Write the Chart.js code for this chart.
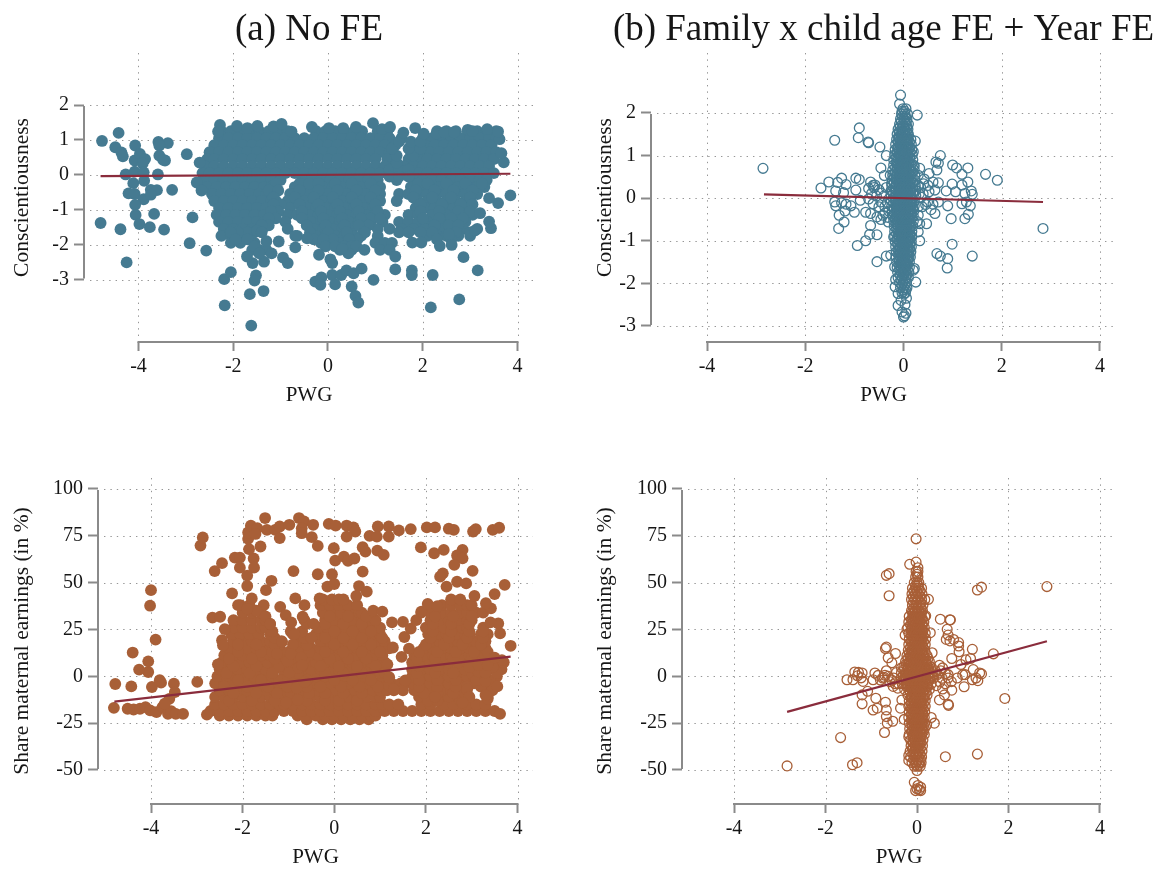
<!DOCTYPE html>
<html><head><meta charset="utf-8">
<script src="https://cdn.jsdelivr.net/npm/chart.js@4"></script>
<style>html,body{margin:0;background:#fff;overflow:hidden}canvas{position:absolute}</style>
</head><body>
<canvas id="pa" style="left:0;top:0" width="560" height="420"></canvas>
<canvas id="pb" style="left:590px;top:0" width="577" height="420"></canvas>
<canvas id="pc" style="left:0;top:440px" width="560" height="431"></canvas>
<canvas id="pd" style="left:590px;top:440px" width="577" height="431"></canvas>
<script>
const xTicks=[-4,-2,0,2,4];
const consTicks=[-3,-2,-1,0,1,2];
const shareTicks=[-50,-25,0,25,50,75,100];
const consLabel="Conscientiousness";
const shareLabel="Share maternal earnings (in %)";
const xLabel="PWG";
const titleA="(a) No FE";
const titleB="(b) Family x child age FE + Year FE";
const lineAX=[-4.8,3.85],lineAY=[-.04,.03];
const lineBX=[-2.84,2.84],lineBY=[.09,-.09];
const lineCX=[-4.8,3.85],lineCY=[-13.5,10.5];
const lineDX=[-2.84,2.84],lineDY=[-19,18.7];

const aOuter=[[-4.77,.97],[-4.42,1.2],[-4.49,.79],[-4.36,.64],[-4.33,.53],[-4.07,.84],[-4.08,.41],[-3.97,.6],[-3.86,.45],[-3.91,.33],[-3.58,.94],[-3.38,.91],[-3.56,.84],[-3.56,.55],[-3.44,.41],[-3.48,.43],[-4.27,.01],[-4.08,.09],[-3.89,.07],[-3.59,.01],[-4.11,-.24],[-3.88,-.17],[-3.74,-.43],[-3.61,-.44],[-3.29,-.43],[-4.21,-.53],[-4.08,-.55],[-3.89,-.7],[-3.74,-.57],[-4.07,-.86],[-4.06,-1.15],[-3.67,-1.12],[-3.98,-1.41],[-3.76,-1.5],[-3.46,-1.57],[-4.38,-1.56],[-4.8,-1.38],[-4.25,-2.51],[-2.98,.59],[-2.71,.35],[-2.77,-.22],[-2.67,-.45],[-2.86,-1.22],[-2.92,-1.96],[-2.57,-2.17],[-2.19,-2.99],[-2.05,-2.79],[-2.18,-3.74],[-1.62,-4.32],[-1.65,-3.42],[-1.36,-3.33],[-1.52,-2.88],[-1.55,-3.03],[-1.59,-2.53],[-1.35,-2.49],[-1.71,-2.34],[-1.19,-2.25],[-.95,-2.37],[-.85,-2.53],[-1.04,-1.91],[-.69,-2.08],[-.69,-1.75],[-.44,-1.82],[-.19,-2.29],[.05,-2.42],[.09,-2.53],[-.27,-3.06],[-.14,-2.94],[-.16,-3.15],[.09,-2.87],[.15,-3.14],[.28,-2.87],[.39,-2.74],[.5,-3.2],[.58,-3.47],[.64,-3.66],[.54,-2.82],[.71,-2.69],[.96,-3.01],[.77,-2.15],[.43,-2.25],[.3,-2.12],[1.42,-2.34],[1.42,-2.71],[1.77,-2.74],[1.77,-2.87],[2.21,-2.87],[2.17,-3.8],[2.77,-3.57],[2.86,-2.36],[3.16,-2.74],[2.36,-2.04],[2.61,-2.01],[1.78,-1.94],[1.97,-1.94],[3.44,-1.53],[3.4,-1.34],[3.21,-1.1],[3.59,-.81],[3.85,-.59],[3.4,-.67],[3.71,.36],[3.66,.62],[3.62,1.02],[3.59,1.24],[3.36,1.31],[-2.28,1.43],[-2.32,1.24],[-1.92,1.4],[-1.7,1.34],[-1.49,1.4],[-1.15,1.39],[-.98,1.46],[-.77,1.24],[-.34,1.37],[.02,1.34],[.32,1.34],[.59,1.37],[.95,1.48],[1.14,1.31],[1.31,1.37],[1.59,1.21],[1.84,1.34],[2.02,1.18],[2.29,1.18],[2.46,1.22],[2.66,1.22],[2.95,1.29],[3.05,1.25],[-1.5,-1.6],[-1.4,-1.65],[-1.3,-1.9],[-1.55,-2.05],[-1.45,-2.25],[3.1,-1.6],[2.55,-1.7]];
const aRows=[
[1.25,-2.25,-2.05,-1.85,-1.65,-1.45,-1.25,-1.05,-.85,-.25,-.05,.15,.35,.55,.72,1.05,1.25,2.3,2.5,2.7,2.95,3.15,3.35,3.55],
[1.05,-2.3,-2.1,-1.9,-1.7,-1.5,-1.3,-1.1,-.9,-.7,-.5,-.3,-.1,.1,.3,.5,.7,.9,1.1,1.3,1.55,2,2.2,2.4,2.6,2.8,3,3.2,3.4,3.55],
[.85,-2.4,-2.2,-2,-1.8,-1.6,-1.4,-1.2,-1,-.8,-.6,-.4,-.2,0,.2,.4,.6,.8,1,1.2,1.42,1.85,2.05,2.25,2.45,2.65,2.85,3.05,3.25,3.45],
[.65,-2.5,-2.3,-2.1,-1.9,-1.7,-1.5,-1.3,-1.1,-.9,-.7,-.5,-.3,-.1,.1,.3,.5,.7,.9,1.1,1.3,1.75,1.95,2.15,2.35,2.55,2.75,2.95,3.15,3.35,3.55],
[.45,-2.55,-2.4,-2.2,-2,-1.8,-1.6,-1.4,-1.2,-1,-.8,-.6,-.4,-.2,0,.2,.4,.6,.8,1,1.25,1.7,1.9,2.1,2.3,2.5,2.7,2.9,3.1,3.3,3.5],
[.25,-2.6,-2.4,-2.2,-2,-1.8,-1.6,-1.4,-1.2,-1,-.8,-.6,-.4,-.2,0,.2,.4,.6,.8,1,1.2,1.4,1.6,1.8,2,2.2,2.4,2.6,2.8,3,3.2,3.4],
[.05,-2.65,-2.5,-2.3,-2.1,-1.9,-1.7,-1.5,-1.3,-1.1,-.9,-.7,-.5,-.3,-.1,.1,.3,.5,.7,.9,1.1,1.3,1.5,1.7,1.9,2.1,2.3,2.5,2.7,2.9,3.1,3.3,3.5],
[-.15,-2.6,-2.4,-2.2,-2,-1.8,-1.6,-1.4,-1.2,-1,-.55,-.35,-.15,.05,.25,.45,.65,.85,1.05,1.45,1.8,2,2.2,2.4,2.6,2.8,3,3.2,3.35],
[-.35,-2.55,-2.35,-2.15,-1.95,-1.75,-1.55,-1.35,-1.2,-.7,-.5,-.3,-.1,.1,.3,.5,.7,.9,1.1,1.75,1.95,2.15,2.35,2.55,2.75,2.95,3.15,3.3],
[-.55,-2.45,-2.25,-2.05,-1.85,-1.65,-1.45,-1.3,-.8,-.6,-.4,-.2,0,.2,.4,.6,.8,1,1.1,1.5,1.7,1.9,2.1,2.3,2.5,2.7,2.9,3.15],
[-.75,-2.4,-2.2,-2,-1.8,-1.6,-1.4,-1.2,-1.1,-.85,-.65,-.5,-.3,-.1,.1,.3,.5,.7,.9,1.1,1.45,1.9,2.1,2.3,2.5,2.7,2.9,3],
[-.95,-2.3,-2.1,-1.9,-1.7,-1.5,-1.3,-1.1,-.8,-.45,-.25,-.05,.15,.35,.55,.75,.95,1.85,2.05,2.25,2.45,2.65,2.85,3],
[-1.15,-2.35,-2.15,-1.95,-1.75,-1.55,-1.35,-1.15,-.85,-.65,-.4,-.2,0,.2,.4,.6,.8,1,1.2,1.7,1.9,2.2,2.5,2.7,3.05],
[-1.35,-2.3,-2.1,-1.9,-1.7,-1.5,-1.35,-.9,-.35,-.15,.05,.25,.45,.65,.9,1.15,1.5,1.7,1.9,2.1,2.4,2.65,2.9],
[-1.55,-2.2,-2,-1.8,-1.6,-1.38,-.85,-.3,-.1,.1,.3,.5,.75,1.05,1.3,1.55,1.8,2.05,2.4,2.6,2.85,3.15],
[-1.75,-2.25,-2.05,-1.85,-1.7,-.65,-.25,-.05,.15,.35,.55,.7,1.05,2.1,2.3,2.5,2.75,3],
[-1.95,-2.05,-1.85,-1.55,-.15,.05,.25,.45,.55,1,1.2,1.35],
[-2.15,-1.6,-1.45,-1.3,.25,.4,.5,1.1,1.3],
[-.25,1.9,2.1,2.5,2.9,3.25,-1.1,-.6,-.4,-.2,.15,.5,.9],
[-.45,-1.25,-1.05,1.85,2.25,2.65,3.05,-.6,-.2,.2,.6,1],
[-.65,-1.15,1.8,2.2,2.6,3,-.7,-.3,.1,.5,.9],
[-.85,-1,-1.15,1.95,2.4,2.8,3.05,-.6,-.2,.2,.6,1],
[-1.05,-1.05,-1.2,1.95,2.35,2.75,3,-.55,1.05,-.15,.25,.65],
[-1.25,-1.1,-1.25,-.55,.9,1.1,2,2.35,2.6,2.85,-.1,.3,.7],
[-1.45,-1.25,-1.4,-.45,.85,2.25,2.55,2.75,-.05,.35,.65],
[-1.65,-1.55,-1.7,-1.9,-2.05,-.38,.78,1.5,1.7,1.95,2.2,2.7,3,0,.4],
[-1.85,-1.7,-1.95,-.3,.62,.45,.1,-.1,2.3,2.6],
[-2.05,-.05,.15,.35,.5,.6],
[.15,1.3,1.5,1.7],[.35,1.45],[-.05,1.3,1.5,1.7],[.55,1.45,1.8],[.75,1.35,1.7,1.95],[.95,1.5,1.75,1.95]];

const cOuter=[[-4.81,-16.8],[-4.78,-4.1],[-4.43,-5.4],[-4.51,-17.3],[-4.38,-17.7],[-4.24,-17.3],[-4.12,-16.4],[-4.02,-18.2],[-3.88,-19.1],[-3.75,-16.4],[-3.63,-20],[-3.56,-18.6],[-3.46,-20],[-3.3,-20],[-3.5,-3.9],[-3.78,-3.4],[-3.81,-2.1],[-3.98,-5.7],[-4.06,2.3],[-4.26,3.6],[-4.06,8],[-4.4,12.7],[-3.9,19.6],[-4.02,37.7],[-4,46],[-3.48,-8.4],[-3.6,-12],[-3.7,-14.6],[-2.99,-3],[-2.92,69.8],[-2.87,74.1],[-2.78,-20.4],[-2.61,56.2],[-2.45,60.4],[-2.17,63.4],[-2.06,63.4],[-1.76,62.9],[-2.06,58],[-1.75,58],[-1.9,53.8],[-1.9,48.2],[-2.23,44.3],[-1.49,46],[-1.37,51],[-1.61,69.3],[-1.86,67.9],[-1.88,73.4],[-1.88,76.8],[-1.82,80.4],[-1.68,79.1],[-1.72,76],[-1.47,78.2],[-1.51,84.5],[-1.29,78.2],[-1.19,80],[-1.19,73.8],[-.98,80.9],[-.77,84.5],[-.66,82.7],[-.71,79],[-.71,76.4],[-.46,80.9],[-.49,74.3],[-.36,69.6],[-.89,56.2],[-.36,54.5],[-.12,81.4],[.03,80.5],[.27,80.5],[.42,79.5],[.46,77.3],[.27,74.6],[-.01,68.4],[.02,61.8],[.21,63.9],[.3,61.6],[.44,62.9],[-.05,54.5],[.62,55.9],[.62,68.9],[.68,66.6],[.77,75],[.95,80],[.93,74.6],[1.19,80],[1.19,74.6],[.94,67.1],[1.08,64.8],[1.41,77.9],[1.67,78.6],[2.02,79.5],[2.2,79.5],[1.89,68.8],[2.18,65.7],[2.39,67.5],[2.5,78.8],[2.61,78.2],[3.03,77.3],[3.09,78.6],[3.46,78.2],[3.6,79.3],[2.8,67.5],[2.68,64.5],[2.8,63],[2.62,59.5],[3.02,56.3],[2.37,55],[2.31,53.2],[3.72,48.8],[3.5,43.9],[3.85,16.3],[-2.1,38],[-1.8,41.6],[-1.54,38],[-1.18,37.1],[-1.06,32.7],[-.94,28.8],[-.85,41.6],[-.65,38],[-.69,31.8],[-2.66,31.3],[-2.49,31.8],[-2.39,25.2],[-2.45,19.3],[-2.43,16.6],[-2.54,6.4],[-1.14,18.4],[-.87,22.5],[-.15,47.9],[0,49.3],[.54,48.2],[.71,45.2],[.48,42.9],[-.32,41.6],[.85,35],[1.05,34.5],[1.26,28.8],[1.5,29.1],[1.53,21],[1.63,14.8],[1.47,10.4],[1.28,15.4],[1.16,6.4],[3.62,22.9],[3.58,28.2],[3.41,28.8],[3.42,36.3],[3.31,39],[3.06,42.9],[2.68,50.5],[2.88,49.6],[2.45,47.9],[3.62,-20],[3.35,-12],[3.45,-7.5],[3.56,-5.4],[3.66,8.6],[3.46,5],[1.67,25.5],[1.79,30],[1.9,34.5],[2.04,38.6],[2.25,37.5],[-1.7,35],[-1.9,36],[1.2,-5],[1.5,-6],[-1.5,32],[-1.4,28],[-1.25,12],[-1.02,8],[-.95,12],[-.72,10],[-1,-1],[-.8,-12.5],[-1.02,-5.5],[-.82,-6],[-.65,-3],[-.98,2],[-.78,4.5],[-1.05,-14],[-.7,6],[2.9,-7],[3.1,-2],[3.3,-2.5],[3.15,2.5],[3.3,2],[2.95,5],[3.15,6],[3.35,6],[3.5,10],[1.55,-2.2],[1.3,-7],[1.1,2],[1.2,-.5],[3.3,-10],[2.95,-11],[2.8,-14],[2.2,-11]];
const cRows=[
[-23,-.6,-.25,-.05,.15,.35,.55,.75],
[-21,-2.5,-2.3,-2.1,-1.9,-1.7,-1.5,-1.35,-.8,-.65,-.4,-.2,0,.2,.4,.6,.8,.9],
[-18.5,-2.7,-2.5,-2.3,-2.1,-1.9,-1.7,-1.5,-1.3,-1.1,-.9,-.7,-.5,-.3,-.1,.1,.3,.5,.7,.9,1.1,1.3,1.5,1.7,1.9,2.1,2.3,2.5,2.7,2.9,3.1,3.3,3.5],
[-15,-2.6,-2.4,-2.2,-2,-1.8,-1.6,-1.4,-1.2,-1.1,-.9,-.7,-.5,-.3,-.1,.1,.3,.5,.7,.9,1.05,1.2,1.4,1.9,2.1,2.4,2.6,2.9,3.1,3.3],
[-11,-2.6,-2.4,-2.2,-2,-1.8,-1.6,-1.4,-1.2,-1.1,-.85,-.5,-.3,-.1,.1,.3,.5,.7,.9,1,1.85,2.05,2.3,2.5,2.7,3.35],
[-7.5,-2.5,-2.3,-2.1,-1.9,-1.7,-1.5,-1.3,-1.15,-.95,-.75,-.55,-.35,-.15,.05,.25,.45,.65,.85,1,1.15,1.3,1.5,1.75,1.95,2.15,2.35,2.55,2.75,3.4],
[-3.75,-2.6,-2.4,-2.2,-2,-1.8,-1.6,-1.4,-1.2,-1.1,-.9,-.5,-.3,-.1,.1,.3,.5,.7,.9,1,1.25,1.45,1.7,1.9,2.1,2.3,2.5,2.7,2.8,3.05,3.25,3.45],
[0,-2.55,-2.35,-2.15,-1.95,-1.75,-1.55,-1.35,-1.1,-.95,-.75,-.6,-.4,-.2,0,.2,.4,.6,.8,1.05,1.7,1.9,2.1,2.3,2.5,2.7,2.9,3.05,3.25,3.55],
[3.75,-2.5,-2.3,-2.1,-1.9,-1.7,-1.5,-1.3,-1.1,-.9,-.7,-.5,-.3,-.1,.1,.3,.5,.7,.9,1.1,1.7,1.9,2.1,2.3,2.5,2.7,2.85,3.5,3.65],
[7.5,-2.45,-2.25,-2.05,-1.85,-1.65,-1.45,-1.25,-1,-.8,-.6,-.4,-.2,0,.2,.4,.6,.8,1,1.1,1.7,1.9,2.1,2.3,2.5,2.7,2.9,3.1,3.35,3.55,3.7],
[11.25,-2.4,-2.2,-2,-1.8,-1.6,-1.4,-1.2,-1.1,-.95,-.75,-.55,-.35,-.15,.05,.25,.45,.65,.85,1.05,1.75,1.95,2.15,2.35,2.55,2.75,2.95,3.15,3.3],
[15,-2.3,-2.1,-1.9,-1.7,-1.5,-1.4,-1.2,-.9,-.7,-.5,-.3,-.1,.1,.3,.5,.7,.9,1.05,1.2,1.95,2.15,2.35,2.55,2.75,2.95,3.15,3.3],
[18.75,-2.2,-2,-1.8,-1.6,-1.4,-1.15,-.8,-.3,-.1,.1,.3,.5,.7,.9,1.1,2.1,2.3,2.5,2.7,2.9,3.1,3.3],
[22.5,-2.25,-2.05,-1.85,-1.65,-1.4,-.9,-.8,-.4,-.2,0,.2,.4,.6,.8,1,2.05,2.25,2.45,2.65,2.85,2.95,3.2,3.35],
[26,-2.2,-2,-1.8,-1.6,-1.5,-.35,-.15,.05,.25,.45,.65,.85,1,2,2.2,2.4,2.6,2.8,2.9,3.25],
[30,-2.2,-2,-1.8,-1.6,-1.5,-.65,-.2,0,.2,.4,.6,.8,.9,2.1,2.3,2.5,2.7,2.9,3],
[34,-2,-1.8,-1.6,-.25,-.05,.15,.35,.55,.6,1.9,2.1,2.35,2.55,2.75,2.9,3.1,3.25],
[38,-2.05,-1.85,-.3,-.1,.1,.3,.5,2.35,2.55,2.75,2.9,3],
[41,-.25,-.05,.1,.2,2.55,2.75],
[-13,-.6,-1,2.05,2.25,2.75,.1,.5,-.2,-2.3,-1.8,-1.3],
[-9,-.95,-.75,-.55,1.95,2.25,2.6,2.85,-.2,.2,.6,-2.2,-1.7,-1.25],
[-5.5,-.95,-.75,-.6,1.85,2.25,2.65,2.9,3.2,-.3,.15,.55,.95,-2.4,-1.9,-1.45],
[-2,-.98,-.8,-.6,3.15,3.4,1.85,2.25,2.65,0,.4,.8,-2.1,-1.6,-1.2],
[1.8,-1,-.8,3,3.3,3.55,1.8,2.2,2.6,-.2,.2,.6,1,-2.35,-1.85,-1.35],
[5.5,-1.1,-.9,-.7,3,3.25,3.45,1.85,2.25,-.3,.1,.5,.9,-2.2,-1.7,-1.2],
[9.5,-1.05,-.85,-.65,1.8,2.2,2.6,3,-.1,.3,.7,-2.3,-1.8,-1.3],
[13,-1,-.8,-.55,-1.35,1.85,2.25,2.65,3.05,3.35,-.2,.2,.6,1,-2.1,-1.6],
[17,-1.3,-.9,-.6,2,2.4,2.8,3.2,0,.4,.8,-2.1,-1.7],
[20.5,-1.3,-.65,-.5,2.1,2.5,2.9,3.25,-.2,.2,.6,1.05],
[24,-1.35,-.95,-.7,2.15,2.55,2.95,3.25,0,.4,.8],
[28,-1.4,-.6,-.45,2.15,2.55,2.95,-.2,.2,.6],
[32,2.2,2.6,3,-.1,.3,.7]];

const bOuter=[[-2.86,.7],[2.84,-.71],[-1.4,1.36],[-.9,1.65],[-.92,1.42],[-.71,1.3],[-.72,1.32],[-.48,1.2],[-.35,1],[-.46,.71],[-1.68,.24],[-1.52,.38],[-1.34,.37],[-1.26,.47],[-1.17,.32],[-1.38,.17],[-1.22,.13],[-.97,.47],[-.9,.44],[-.97,.19],[-1.4,-.09],[-1.38,-.18],[-1.26,-.11],[-1.17,-.14],[-1.07,-.18],[-1.19,-.3],[-1.31,-.4],[-1,-.33],[-1.21,-.56],[-1.32,-.71],[-.88,-.05],[-.77,-.33],[-.67,-.36],[-.54,-.44],[-.46,-.5],[-.31,-.56],[-.67,-.64],[-.69,-.85],[-.54,-.86],[-.77,-1],[-.94,-1.11],[-.54,-1.49],[-.35,-1.36],[-.26,-1.34],[-.2,-.91],[-.67,.38],[-.71,.23],[-.65,.11],[-.58,.31],[-.71,-.02],[-.62,-.13],[-.46,-.09],[-.39,.53],[-.27,.54],[-.24,.35],[-.23,.15],[-.5,-.2],[-.38,-.35],[-.5,.2],[-.4,.05],[-.33,-.1],[-.18,-1.61],[-.17,-2.08],[-.16,-1.91],[-.11,-2.24],[-.11,-2.52],[-.06,2.42],[-.08,2.21],[.28,1.95],[.24,1.34],[.2,1.09],[.22,.76],[.3,.54],[.41,.34],[.52,.58],[.68,.66],[.66,.85],[.71,.82],[.75,1],[1,.78],[1.08,.71],[1.31,.71],[1.19,.56],[1.67,.56],[1.91,.42],[1.31,.38],[1.19,.31],[.99,.33],[.71,.36],[.6,.38],[.64,.19],[.52,.15],[.87,.17],[1.06,.15],[1.25,.11],[1.38,.17],[1.4,.09],[1.36,-.18],[1.19,-.13],[1.28,-.09],[.9,-.18],[.71,-.09],[.6,-.14],[.49,-.09],[.64,-.36],[.56,-.27],[1.32,-.38],[1.25,-.48],[.97,-.48],[.47,-.6],[.3,-.79],[.33,-1],[.99,-1.08],[.68,-1.3],[.75,-1.36],[.9,-1.42],[.89,-1.64],[1.4,-1.36],[.22,-1.65],[.25,-1.97],[.2,-1.69],[0,-2.79],[-.03,-2.67],[.03,-2.5],[.06,-2.35],[.01,-2.25],[.05,-2.7],[-.05,-2.4],[.02,-2.76],[.4,.1],[.35,.25],[.38,-.2],[.3,-.4],[.42,.45],[.33,.7],[.3,-.2],[.36,.02],[-.6,.25],[-.55,.05],[-.62,.3],[-.45,.12],[-.35,.25],[-.38,-.2],[-.42,-.4],[-.3,-.3],[-.32,-.45],[.45,-.15],[.5,.3],[.3,.3],[.32,.1],[.28,-.55],[.33,-.6]];
const bRows=[
[2.1,-.01,.05],[1.98,-.04,.03,.08],[1.86,-.06,.01,.07],[1.74,-.08,-.02,.05,.1],[1.62,-.11,-.04,.03,.09],[1.5,-.13,-.05,.03,.1],[1.38,-.14,-.06,.02,.1,.15],[1.26,-.16,-.07,.01,.09,.16],[1.14,-.17,-.08,.01,.1,.17],[1.02,-.18,-.09,0,.09,.18],[.9,-.2,-.1,0,.1,.19],[.78,-.2,-.11,-.02,.07,.16,.2],[.66,-.22,-.12,-.03,.06,.15,.22],[.54,-.22,-.13,-.04,.05,.14,.23],[.42,-.23,-.13,-.04,.05,.14,.24],[.3,-.24,-.14,-.05,.04,.13,.24],[.18,-.25,-.15,-.05,.04,.13,.25],[.06,-.25,-.15,-.06,.03,.12,.25],[-.06,-.25,-.16,-.06,.03,.12,.22],[-.18,-.24,-.15,-.05,.04,.13,.22],[-.3,-.23,-.14,-.05,.04,.13,.21],[-.42,-.22,-.13,-.04,.05,.14,.2],[-.54,-.2,-.12,-.03,.06,.14,.2],[-.66,-.19,-.11,-.02,.07,.15,.19],[-.78,-.18,-.1,-.01,.08,.17],[-.9,-.18,-.09,0,.09,.17],[-1.02,-.17,-.08,.01,.1,.16],[-1.14,-.16,-.07,.02,.1,.16],[-1.26,-.15,-.06,.03,.11,.15],[-1.38,-.15,-.06,.03,.11,.14],[-1.5,-.14,-.05,.03,.12],[-1.62,-.13,-.05,.04,.12],[-1.74,-.12,-.04,.04,.11],[-1.86,-.11,-.03,.05,.1],[-1.98,-.08,-.01,.06],[-2.1,-.06,.01,.07],[-2.22,-.03,.04]];
const bRowsMid=[
[2.04,-.03,.02],[1.92,-.02,.04],[1.8,-.05,.02,.06],[1.68,-.07,0,.07],[1.56,-.09,-.01,.06],[1.44,-.1,-.02,.06],[1.32,-.11,-.03,.05,.12],[1.2,-.12,-.03,.05,.13],[1.08,-.13,-.04,.05,.14],[.96,-.14,-.05,.04,.13],[.84,-.15,-.06,.03,.12],[.72,-.16,-.07,.02,.11],[.6,-.17,-.08,.01,.1,.18],[.48,-.18,-.09,0,.09,.18],[.36,-.19,-.09,0,.09,.19],[.24,-.2,-.1,-.01,.08,.19],[.12,-.2,-.1,-.01,.08,.19],[0,-.21,-.11,-.02,.08,.18],[-.12,-.2,-.11,-.01,.08,.17],[-.24,-.19,-.1,0,.09,.18],[-.36,-.18,-.09,0,.09,.17],[-.48,-.17,-.08,.01,.1,.16],[-.6,-.15,-.07,.02,.11],[-.72,-.14,-.06,.03,.12],[-.84,-.14,-.05,.04,.13],[-.96,-.13,-.04,.05,.13],[-1.08,-.12,-.03,.06,.13],[-1.2,-.11,-.02,.07,.13],[-1.32,-.1,-.01,.07],[-1.44,-.09,-.01,.08],[-1.56,-.09,0,.08],[-1.68,-.08,0,.08],[-1.8,-.07,.01,.07],[-1.92,-.05,.02],[-2.04,-.03,.03],[-2.16,-.01,.05]];
const bRowsCore=[
[1.53,-.08,-.02,.04,.08],[1.41,-.09,-.03,.03,.09],[1.29,-.1,-.04,.02,.08],[1.17,-.11,-.05,.01,.07,.12],[1.05,-.12,-.06,0,.06,.12],[.93,-.12,-.06,0,.06,.13],[.81,-.13,-.07,-.01,.05,.11],[.69,-.13,-.07,-.01,.05,.11],[.57,-.14,-.08,-.02,.04,.1,.16],[.45,-.15,-.08,-.02,.04,.1,.16],[.33,-.15,-.08,-.02,.04,.1,.16],[.21,-.16,-.09,-.03,.03,.09,.16],[.09,-.16,-.09,-.03,.03,.09,.15],[-.03,-.16,-.09,-.03,.03,.09,.15],[-.15,-.16,-.09,-.03,.03,.09,.15],[-.27,-.15,-.08,-.02,.04,.1,.15],[-.39,-.14,-.08,-.02,.04,.1,.15],[-.51,-.13,-.07,-.01,.05,.11],[-.63,-.12,-.06,0,.06,.12],[-.75,-.12,-.06,0,.06,.12],[-.87,-.11,-.05,.01,.07,.12],[-.99,-.1,-.04,.02,.08,.11],[-1.11,-.1,-.04,.02,.08],[-1.23,-.09,-.03,.03,.09],[-1.35,-.09,-.03,.03,.09],[-1.47,-.08,-.02,.04,.08],[-1.59,-.07,-.02,.04,.07],[-1.71,-.06,-.01,.05]];

const dOuter=[[-.02,73.4],[-.02,61],[-.16,59.8],[.02,58],[-.61,54.8],[-.67,53.9],[-.61,43],[2.84,47.9],[1.41,47.6],[1.32,46.1],[.25,41.1],[.51,30.5],[.72,30.2],[.73,30.1],[.66,25.1],[.68,22],[.64,19.7],[.72,18.9],[.8,19.7],[.91,18],[.91,16.2],[1.21,14.4],[.92,13.1],[1.67,12],[.76,9.5],[1.07,8.8],[1.17,9.5],[.96,6.3],[.49,5.9],[.56,4.5],[1.23,3.6],[1.37,1.8],[1.41,1.3],[1,.9],[1.05,.9],[.88,-.9],[.68,-.9],[.68,.9],[1.21,-1.8],[1.33,-2.3],[1.29,-.9],[1.03,-5.6],[.76,-7.4],[.56,-6.8],[.6,-9.9],[.49,-12.6],[.68,-14.9],[.69,-15.5],[1.92,-11.8],[.31,-22],[.38,-25],[.21,-26],[.33,12.6],[.29,23.3],[.19,32.3],[-.26,22],[-.22,25.1],[-.67,15.6],[-.69,14.8],[-.47,12.2],[-.63,9.9],[-.55,7.2],[-.34,4.5],[-.67,3],[-1.36,2.3],[-1.28,2.1],[-1.2,1.8],[-1.53,-1.8],[-1.4,-1.8],[-1.18,-2.7],[-1.3,.3],[-1.22,-.8],[-.92,1.8],[-.96,-1.8],[-.75,-.9],[-.63,0],[-.51,-.9],[-.42,-6.3],[-.52,-5.4],[-1.08,-8],[-1.2,-9.9],[-1.2,-14.7],[-.9,-11.7],[-.69,-13.8],[-.33,-12.6],[-.36,-17],[-.96,-18],[-.87,-17],[-.67,-18],[-.67,-21.5],[-.65,-25],[-.53,-24],[-.28,-23],[-.71,-30],[-1.67,-32.7],[-2.84,-47.8],[-1.41,-47.2],[-1.31,-46.1],[.62,-42.9],[1.32,-41.5],[-.18,-32.3],[-.06,-56.6],[.02,-58.3],[-.03,-61],[.08,-61],[.08,-59.2],[0,-60],[.05,-60.6],[-.18,-42.2],[-.18,-44.9],[0,-50.3],[.45,1],[.5,-3],[.42,-5],[-.45,2],[-.55,-2],[-.4,-4],[.55,-1],[.4,3],[-.72,-.5],[-.8,-2],[-.6,-2.8],[-.48,-4],[.62,1.5],[.75,-2.8],[.62,-4],[.52,3],[-.7,.6],[-.85,.5]];
const dRows=[
[56,-.02,.02],[53,-.03,.02],[50,-.06,0,.04],[47,-.1,-.03,.04,.1],[44,-.11,-.04,.03,.11],[41,-.12,-.05,.02,.1,.17],[38,-.1,-.02,.06,.13],[35,-.12,-.04,.04,.12],[32,-.17,-.08,0,.08,.17],[29,-.18,-.09,-.01,.07,.15],[26,-.2,-.11,-.02,.07,.16],[23,-.18,-.09,0,.09,.18],[20,-.17,-.08,.01,.1,.19],[17,-.18,-.09,0,.09,.18],[14,-.19,-.1,-.01,.08,.17],[11,-.22,-.13,-.04,.05,.14,.22],[8,-.25,-.16,-.07,.02,.11,.2,.27],[5,-.29,-.2,-.11,-.02,.07,.16,.25,.31],[2,-.34,-.25,-.16,-.07,.02,.11,.2,.29,.35],[-1,-.35,-.26,-.17,-.08,.01,.1,.19,.28,.36],[-4,-.32,-.23,-.14,-.05,.04,.13,.22,.31],[-7,-.27,-.18,-.09,0,.09,.18,.27],[-10,-.2,-.11,-.02,.07,.16,.22],[-13,-.17,-.08,.01,.1,.18],[-16,-.18,-.09,0,.09,.18],[-19,-.17,-.08,.01,.1,.17],[-22,-.18,-.09,0,.09,.16],[-25,-.17,-.08,.01,.1,.16],[-28,-.16,-.07,.02,.11,.16],[-31,-.17,-.08,.01,.1,.16],[-34,-.14,-.05,.04,.13],[-37,-.13,-.04,.05,.12],[-40,-.15,-.06,.03,.11],[-43,-.14,-.05,.03,.1],[-46,-.11,-.03,.05,.09],[-48,-.06,.01,.07]];
const dRowsMid=[
[54.5,0],[48.5,-.03,.02],[45.5,-.07,0,.07],[42.5,-.08,-.01,.07],[39.5,-.08,0,.08],[36.5,-.07,.01,.09],[33.5,-.08,0,.08],[30.5,-.12,-.04,.04,.12],[27.5,-.14,-.05,.03,.12],[24.5,-.13,-.04,.05,.13],[21.5,-.12,-.03,.06,.14],[18.5,-.13,-.04,.05,.14],[15.5,-.14,-.05,.04,.13],[12.5,-.17,-.08,.01,.1,.18],[9.5,-.2,-.11,-.02,.07,.16,.24],[6.5,-.24,-.15,-.06,.03,.12,.21],[3.5,-.29,-.2,-.11,-.02,.07,.16,.25],[.5,-.3,-.21,-.12,-.03,.06,.15,.24,.32],[-2.5,-.28,-.19,-.1,-.01,.08,.17,.26],[-5.5,-.22,-.13,-.04,.05,.14,.23],[-8.5,-.15,-.06,.03,.12,.2],[-11.5,-.12,-.03,.06,.15],[-14.5,-.13,-.04,.05,.14],[-17.5,-.12,-.03,.06,.14],[-20.5,-.13,-.04,.05,.13],[-23.5,-.12,-.03,.06,.14],[-26.5,-.11,-.02,.07,.14],[-29.5,-.12,-.03,.06,.14],[-32.5,-.09,0,.09],[-35.5,-.08,.01,.09],[-38.5,-.1,-.02,.07],[-41.5,-.09,-.01,.07],[-44.5,-.07,.01,.08],[-47,-.03,.04]];
const dRowsCore=[
[34.2,-.1,-.05,0,.05,.1],[31.2,-.1,-.05,0,.05,.1],[28.2,-.11,-.05,.01,.06,.11],[25.2,-.11,-.05,.01,.06,.11],[22.2,-.11,-.05,.01,.06,.11],[19.2,-.11,-.05,.01,.06,.11],[16.2,-.11,-.05,.01,.06,.11],[13.2,-.13,-.07,-.01,.05,.11],[10.2,-.15,-.09,-.03,.03,.09,.15],[7.2,-.18,-.12,-.06,0,.06,.12,.18],[4.2,-.2,-.14,-.08,-.02,.04,.1,.16,.22],[1.2,-.24,-.18,-.12,-.06,0,.06,.12,.18,.24],[-1.8,-.24,-.18,-.12,-.06,0,.06,.12,.18,.24],[-4.8,-.2,-.14,-.08,-.02,.04,.1,.16,.22],[-7.8,-.16,-.1,-.04,.02,.08,.14],[-10.8,-.11,-.05,.01,.06,.12],[-13.8,-.11,-.05,.01,.06,.11],[-16.8,-.11,-.05,.01,.06,.11],[-19.8,-.11,-.05,.01,.06,.11],[-22.8,-.11,-.05,.01,.06,.11],[-25.8,-.1,-.05,0,.05,.1],[-28.8,-.1,-.05,0,.05,.1],[-31.8,-.09,-.04,.01,.06],[-34.8,-.09,-.04,.01,.06],[-37.8,-.08,-.03,.02],[-40.8,-.07,-.02,.03]];

const fromPairs=p=>p.map(([x,y])=>({x,y}));
const fromRows=r=>r.flatMap(([y,...xs])=>xs.map(x=>({x,y})));
const zip=(xs,ys)=>xs.map((x,i)=>({x,y:ys[i]}));

const AXIS="#8a8a8a",INK="#161616",TEAL="#457a91",BROWN="#a85f37",LINE="#8a2c3c";
const FONT="'Liberation Serif',serif";

const panelArt={id:"panelArt",
  afterLayout(c){
    const t=c.titleBlock;
    if(t&&c.options.plugins.title.display){const a=c.chartArea,m=(a.left+a.right)/2;t.left=m-285;t.right=m+285;t.width=570;}
  },
  beforeDatasetsDraw(c){
    const {ctx,chartArea:a,scales:{x,y}}=c;
    ctx.save();ctx.strokeStyle="#969696";ctx.lineWidth=1;ctx.setLineDash([1.4,5]);
    ctx.beginPath();
    x.ticks.forEach(t=>{const p=Math.round(x.getPixelForValue(t.value))+.5;ctx.moveTo(p,a.top);ctx.lineTo(p,a.bottom-4);});
    y.ticks.forEach(t=>{const p=Math.round(y.getPixelForValue(t.value))+.5;ctx.moveTo(a.left+6,p);ctx.lineTo(a.right,p);});
    ctx.stroke();ctx.setLineDash([]);
    ctx.strokeStyle=AXIS;ctx.lineWidth=2;ctx.beginPath();
    ctx.moveTo(a.left,y.getPixelForValue(y.ticks[0].value)-1);ctx.lineTo(a.left,y.getPixelForValue(y.ticks[y.ticks.length-1].value)+1);
    ctx.moveTo(x.getPixelForValue(x.ticks[0].value)-1,a.bottom);ctx.lineTo(x.getPixelForValue(x.ticks[x.ticks.length-1].value)+1,a.bottom);
    ctx.stroke();ctx.restore();
  }};

function panel(cfg){
  new Chart(document.getElementById(cfg.id),{
    type:"scatter",plugins:[panelArt],
    data:{datasets:[
      {data:cfg.line,showLine:true,borderColor:LINE,borderWidth:2.2,pointRadius:0,clip:false},
      {data:cfg.points,showLine:false,clip:false,pointRadius:cfg.hollow?4.9:5.9,
       backgroundColor:cfg.hollow?"transparent":cfg.color,borderColor:cfg.color,borderWidth:cfg.hollow?1.3:0}
    ]},
    options:{responsive:false,animation:false,
      layout:{padding:{top:cfg.padTop,right:cfg.padRight,left:0,bottom:0}},
      plugins:{legend:{display:false},tooltip:{enabled:false},
        title:{display:!!cfg.title,text:cfg.title,color:INK,font:{family:FONT,size:37,weight:"normal"},padding:{top:8,bottom:0.6}}},
      scales:{
        x:{type:"linear",min:cfg.xMin,max:cfg.xMax,
          afterBuildTicks:s=>{s.ticks=xTicks.map(value=>({value}));},
          afterFit:s=>{s.height=cfg.bottomH;s.paddingLeft=0;s.paddingRight=0;},
          ticks:{autoSkip:false,maxRotation:0,padding:4,color:INK,font:{family:FONT,size:20},callback:v=>String(v)},
          grid:{drawOnChartArea:false,drawTicks:true,tickLength:9,tickWidth:2,tickColor:AXIS},border:{display:false},
          title:{display:true,text:xLabel,color:INK,font:{family:FONT,size:21},padding:{top:0,bottom:cfg.xTitlePad}}},
        y:{type:"linear",min:cfg.yMin,max:cfg.yMax,
          afterBuildTicks:s=>{s.ticks=cfg.yTicks.map(value=>({value}));},
          afterFit:s=>{s.width=cfg.leftW;s.paddingTop=0;s.paddingBottom=0;},
          ticks:{autoSkip:false,padding:5,color:INK,font:{family:FONT,size:20},callback:v=>String(v)},
          grid:{drawOnChartArea:false,drawTicks:true,tickLength:10,tickWidth:2,tickColor:AXIS},border:{display:false},
          title:{display:true,text:cfg.yLabel,color:INK,font:{family:FONT,size:21.5},padding:{top:cfg.yTitlePad,bottom:0}}}
      }}
  });
}

panel({id:"pa",title:titleA,padTop:0,padRight:26,leftW:84,bottomH:78,xTitlePad:12.4,yTitlePad:9,
  xMin:-5.15,xMax:4.348,yMin:-4.79,yMax:3.49,yTicks:consTicks,yLabel:consLabel,color:TEAL,hollow:false,
  points:[...fromRows(aRows),...fromPairs(aOuter)],line:zip(lineAX,lineAY)});
panel({id:"pb",title:titleB,padTop:0,padRight:51,leftW:61,bottomH:78,xTitlePad:12.4,yTitlePad:2,
  xMin:-5.14,xMax:4.326,yMin:-3.376,yMax:3.408,yTicks:consTicks,yLabel:consLabel,color:TEAL,hollow:true,
  points:[...fromRows(bRows),...fromRows(bRowsMid),...fromRows(bRowsCore),...fromPairs(bOuter)],line:zip(lineBX,lineBY)});
panel({id:"pc",title:"",padTop:38,padRight:27,leftW:98,bottomH:67,xTitlePad:1.4,yTitlePad:9,
  xMin:-5.157,xMax:4.338,yMin:-68.15,yMax:105.87,yTicks:shareTicks,yLabel:shareLabel,color:BROWN,hollow:false,
  points:[...fromRows(cRows),...fromPairs(cOuter)],line:zip(lineCX,lineCY)});
panel({id:"pd",title:"",padTop:38,padRight:51,leftW:92,bottomH:67,xTitlePad:1.4,yTitlePad:2,
  xMin:-5.137,xMax:4.35,yMin:-68.15,yMax:105.87,yTicks:shareTicks,yLabel:shareLabel,color:BROWN,hollow:true,
  points:[...fromRows(dRows),...fromRows(dRowsMid),...fromRows(dRowsCore),...fromPairs(dOuter)],line:zip(lineDX,lineDY)});
</script>
</body></html>
